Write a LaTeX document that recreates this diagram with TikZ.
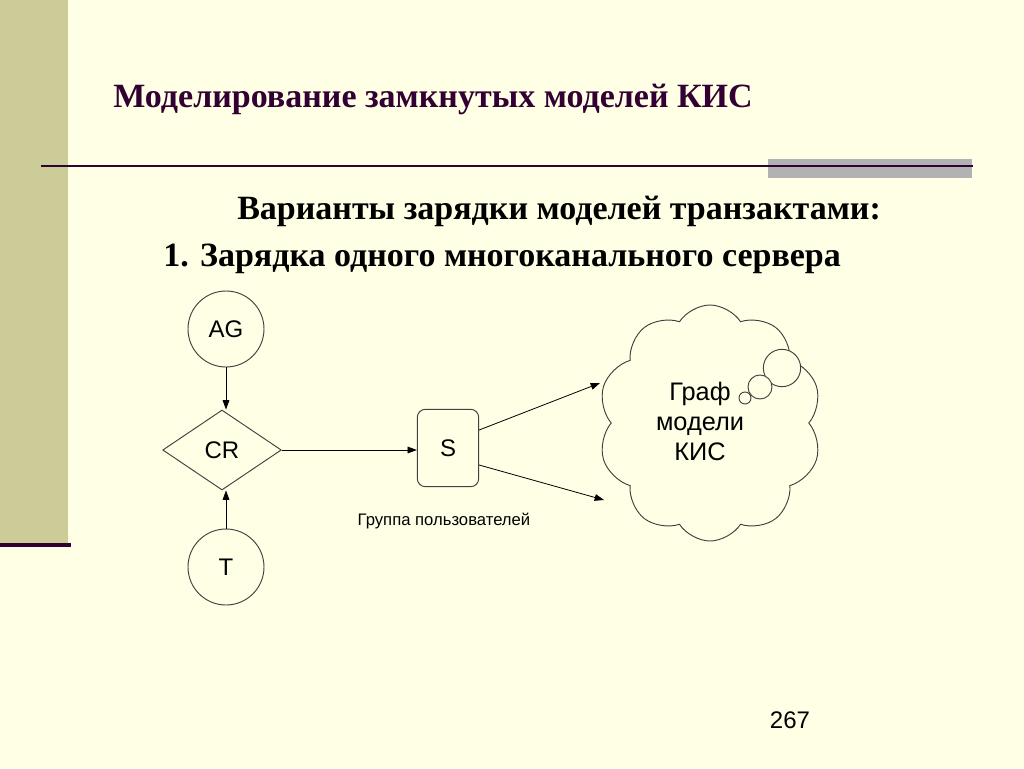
\documentclass[tikz,border=0pt]{standalone}
\usepackage{fontspec}
\setmainfont{Liberation Serif}
\setsansfont{Liberation Sans}
\usetikzlibrary{arrows.meta,shapes.geometric,shapes.symbols}
\definecolor{bg}{RGB}{255,255,230}
\definecolor{band}{RGB}{204,204,153}
\definecolor{plum}{RGB}{51,0,51}
\definecolor{bargray}{RGB}{178,178,178}
\begin{document}
\begin{tikzpicture}[x=0.75pt,y=-0.75pt,
  conn/.style={draw=black,line width=0.6pt,-{Triangle[length=7pt,width=5pt]}},
  shp/.style={draw=black!75,line width=0.7pt,font=\sffamily\fontsize{18pt}{20pt}\selectfont},
  circ/.style={shp,circle,minimum size=57pt,inner sep=0pt},
  head/.style={anchor=base west,inner sep=0pt,font=\bfseries\fontsize{25.5pt}{30pt}\selectfont},
]
\fill[bg] (0,0) rectangle (1024,768);
\useasboundingbox (0,0) rectangle (1024,768);
\fill[band] (0,0) rectangle (68,545);
\draw[plum,line width=3pt] (0,545) -- (71,545);
\fill[bargray] (768,159) rectangle (972,178);
\draw[plum,line width=1.5pt] (41,166) -- (973,166);
\node[head,text=plum] (title) at (113,107) {Моделирование замкнутых моделей КИС};
\node[head] (sub1) at (237,219) {Варианты зарядки моделей транзактами:};
\node[head] (sub2) at (163,266) {1. Зарядка одного многоканального сервера};

\node[circ] (AG) at (226,329) {AG};
\node[shp,diamond,minimum width=89pt,minimum height=60pt,inner sep=0pt] (CR) at (222,450) {CR};
\node[circ] (T) at (226,567) {T};
\node[shp,rounded corners=6pt,minimum width=46pt,minimum height=58pt,inner sep=0pt] (S) at (448,448) {S};
\node[shp,cloud,cloud puffs=10,cloud puff arc=115,aspect=0.95,minimum width=168pt,minimum height=177pt,inner sep=0pt] (cloud) at (710,423) {};
\node[align=center,font=\sffamily\fontsize{19pt}{22.5pt}\selectfont,inner sep=0pt] (ctext) at (700,421) {Граф\\модели\\КИС};
\node[shp,circle,fill=bg,minimum size=28pt,inner sep=0pt] (b1) at (782,368) {};
\node[shp,circle,fill=bg,minimum size=18pt,inner sep=0pt] (b2) at (760,387) {};
\node[shp,circle,fill=bg,minimum size=9pt,inner sep=0pt] (b3) at (745,398) {};
\node[font=\sffamily\fontsize{12.5pt}{14pt}\selectfont,inner sep=0pt] (grp) at (444,521) {Группа пользователей};
\node[font=\sffamily\fontsize{18pt}{20pt}\selectfont,inner sep=0pt,anchor=base] (num) at (790,728) {267};

\coordinate (c1) at (600,383);
\coordinate (c2) at (604,500);
\draw[conn] (AG) -- (AG|-CR.north);
\draw[conn] (T) -- (T|-CR.south);
\draw[conn] (CR.east) -- (S.west|-CR.east);
\draw[conn] (S.east|-482,430) -- (c1);
\draw[conn] (S.east|-482,465) -- (c2);
\end{tikzpicture}
\end{document}
